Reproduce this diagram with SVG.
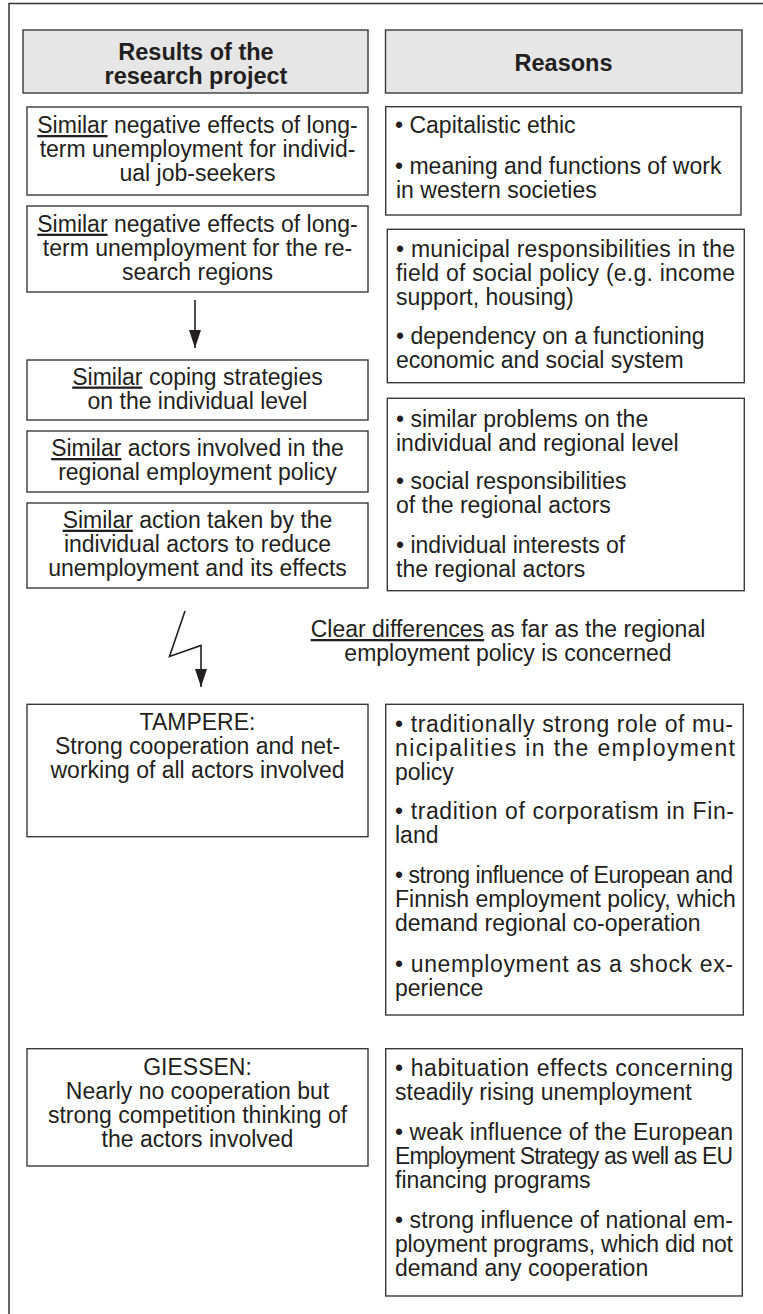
<svg xmlns="http://www.w3.org/2000/svg" width="763" height="1314" viewBox="0 0 763 1314">
  <style>
    .frame { fill: none; stroke: #333; stroke-width: 1.5; }
    .box { fill: #fff; stroke: #3a3a3a; stroke-width: 1.4; }
    .head { fill: #e6e6e6; stroke: #3a3a3a; stroke-width: 1.4; }
    text { font-family: "Liberation Sans", Arial, sans-serif; font-size: 23px; fill: #231f20; }
    .c { text-anchor: middle; }
    .h { font-weight: bold; font-size: 23.5px; text-anchor: middle; }
    .u { text-decoration: underline; }
    .conn { fill: none; stroke: #231f20; stroke-width: 1.6; }
  </style>
  <defs>
    <marker id="arrow" viewBox="0 0 18 12" refX="18" refY="6" markerWidth="18" markerHeight="12" markerUnits="userSpaceOnUse" orient="auto">
      <path d="M0,0 L18,6 L0,12 z" fill="#231f20"/>
    </marker>
  </defs>

  <!-- outer frame: top and left edges -->
  <path class="frame" d="M9,1314 V3.5 H763"/>

  <!-- column headers -->
  <g id="head-results">
    <rect class="head" x="23" y="30" width="345" height="63"/>
    <text class="h" x="196" y="59.5">Results of the</text>
    <text class="h" x="196" y="84">research project</text>
  </g>
  <g id="head-reasons">
    <rect class="head" x="385.5" y="30" width="356.5" height="63"/>
    <text class="h" x="563.5" y="71">Reasons</text>
  </g>

  <!-- results column -->
  <g id="res-individual">
    <rect class="box" x="27" y="107" width="341" height="88"/>
    <text class="c" x="197.5" y="133"><tspan class="u">Similar</tspan> negative effects of long-</text>
    <text class="c" x="197.5" y="157">term unemployment for individ-</text>
    <text class="c" x="197.5" y="181">ual job-seekers</text>
  </g>
  <g id="res-regions">
    <rect class="box" x="27" y="206" width="341" height="86"/>
    <text class="c" x="197.5" y="231.7"><tspan class="u">Similar</tspan> negative effects of long-</text>
    <text class="c" x="197.5" y="255.7">term unemployment for the re-</text>
    <text class="c" x="197.5" y="279.7">search regions</text>
  </g>
  <g id="res-coping">
    <rect class="box" x="27" y="360" width="341" height="60"/>
    <text class="c" x="197.5" y="384.5"><tspan class="u">Similar</tspan> coping strategies</text>
    <text class="c" x="197.5" y="408.5">on the individual level</text>
  </g>
  <g id="res-actors">
    <rect class="box" x="27" y="431" width="341" height="61"/>
    <text class="c" x="197.5" y="456"><tspan class="u">Similar</tspan> actors involved in the</text>
    <text class="c" x="197.5" y="480">regional employment policy</text>
  </g>
  <g id="res-action">
    <rect class="box" x="27" y="503" width="341" height="85"/>
    <text class="c" x="197.5" y="527.7"><tspan class="u">Similar</tspan> action taken by the</text>
    <text class="c" x="197.5" y="551.7">individual actors to reduce</text>
    <text class="c" x="197.5" y="575.7">unemployment and its effects</text>
  </g>
  <g id="differences">
    <text class="c" x="508" y="637"><tspan class="u">Clear differences</tspan> as far as the regional</text>
    <text class="c" x="508" y="661">employment policy is concerned</text>
  </g>
  <g id="res-tampere">
    <rect class="box" x="27" y="704.3" width="341" height="132.4"/>
    <text class="c" x="197.5" y="730">TAMPERE:</text>
    <text class="c" x="197.5" y="754">Strong cooperation and net-</text>
    <text class="c" x="197.5" y="778">working of all actors involved</text>
  </g>
  <g id="res-giessen">
    <rect class="box" x="27" y="1048.7" width="341" height="117.3"/>
    <text class="c" x="197.5" y="1074.5">GIESSEN:</text>
    <text class="c" x="197.5" y="1098.5">Nearly no cooperation but</text>
    <text class="c" x="197.5" y="1122.5">strong competition thinking of</text>
    <text class="c" x="197.5" y="1146.5">the actors involved</text>
  </g>

  <!-- reasons column -->
  <g id="why-individual">
    <rect class="box" x="385.7" y="106.7" width="355.3" height="108.3"/>
    <text x="395" y="133">• Capitalistic ethic</text>
    <text x="395" y="174">• meaning and functions of work</text>
    <text x="396" y="198">in western societies</text>
  </g>
  <g id="why-regions">
    <rect class="box" x="387.3" y="229.3" width="357" height="153.4"/>
    <text x="396" y="256.7" textLength="339" lengthAdjust="spacing">• municipal responsibilities in the</text>
    <text x="396" y="280.7" textLength="339" lengthAdjust="spacing">field of social policy (e.g. income</text>
    <text x="396" y="304.7">support, housing)</text>
    <text x="396" y="344.3">• dependency on a functioning</text>
    <text x="396" y="368.3">economic and social system</text>
  </g>
  <g id="why-actors">
    <rect class="box" x="387.3" y="398.3" width="357" height="192.4"/>
    <text x="396" y="426.5">• similar problems on the</text>
    <text x="396" y="450.5">individual and regional level</text>
    <text x="396" y="489">• social responsibilities</text>
    <text x="396" y="513">of the regional actors</text>
    <text x="396" y="553">• individual interests of</text>
    <text x="396" y="577">the regional actors</text>
  </g>
  <g id="why-tampere">
    <rect class="box" x="385.7" y="704.3" width="357.6" height="310.7"/>
    <text x="395" y="731.7" textLength="338" lengthAdjust="spacing">• traditionally strong role of mu-</text>
    <text x="395" y="755.7" textLength="340" lengthAdjust="spacing">nicipalities in the employment</text>
    <text x="395" y="779.7">policy</text>
    <text x="395" y="819" textLength="339" lengthAdjust="spacing">• tradition of corporatism in Fin-</text>
    <text x="395" y="843">land</text>
    <text x="395" y="883.3" textLength="338" lengthAdjust="spacing">• strong influence of European and</text>
    <text x="395" y="907.3">Finnish employment policy, which</text>
    <text x="395" y="931.3">demand regional co-operation</text>
    <text x="395" y="971.7" textLength="338" lengthAdjust="spacing">• unemployment as a shock ex-</text>
    <text x="395" y="995.7">perience</text>
  </g>
  <g id="why-giessen">
    <rect class="box" x="385.7" y="1048.7" width="356.6" height="247.3"/>
    <text x="395" y="1076" textLength="338" lengthAdjust="spacing">• habituation effects concerning</text>
    <text x="395" y="1100">steadily rising unemployment</text>
    <text x="395" y="1140" textLength="338" lengthAdjust="spacing">• weak influence of the European</text>
    <text x="395" y="1164" textLength="338" lengthAdjust="spacing">Employment Strategy as well as EU</text>
    <text x="395" y="1188">financing programs</text>
    <text x="395" y="1227.5" textLength="338" lengthAdjust="spacing">• strong influence of national em-</text>
    <text x="395" y="1251.5" textLength="338" lengthAdjust="spacing">ployment programs, which did not</text>
    <text x="395" y="1275.5">demand any cooperation</text>
  </g>

  <!-- connectors -->
  <g id="connectors">
    <line class="conn" x1="195" y1="300" x2="195" y2="348" marker-end="url(#arrow)"/>
    <polyline class="conn" points="185,611 169.5,656.5 201,645.5 201,687" marker-end="url(#arrow)"/>
  </g>
</svg>
